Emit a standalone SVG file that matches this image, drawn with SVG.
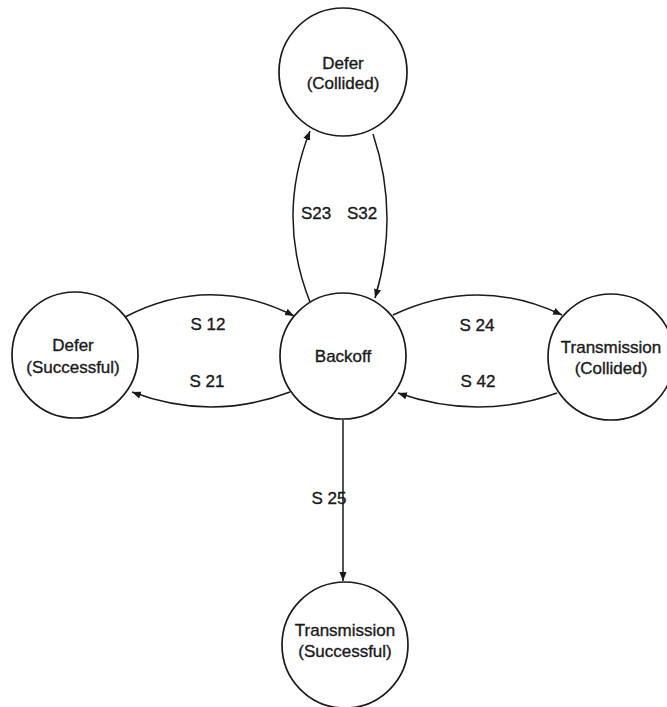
<svg xmlns="http://www.w3.org/2000/svg" width="667" height="707" viewBox="0 0 667 707">
<style>
.node circle{fill:#fff;stroke:#1a1a1a;stroke-width:1.7}
.node text,.lbl{font-family:"Liberation Sans",Arial,sans-serif;font-size:17px;fill:#1a1a1a;stroke:#1a1a1a;stroke-width:0.35;text-anchor:middle}
.edge{fill:none;stroke:#1a1a1a;stroke-width:1.5}
</style>
<defs>
<marker id="arr" viewBox="0 0 10 10" refX="10" refY="5" markerWidth="9" markerHeight="9" markerUnits="userSpaceOnUse" orient="auto">
<path d="M0,1 L10,5 L0,9 Z" fill="#1a1a1a"/>
</marker>
</defs>
<rect width="667" height="707" fill="#fff"/>
<g id="connectors">
<path class="edge" d="M310,302 Q276,216 310,131" marker-end="url(#arr)"/>
<path class="edge" d="M373,134 Q400,215 375,298" marker-end="url(#arr)"/>
<path class="edge" d="M125,317 Q210,273 294,316" marker-end="url(#arr)"/>
<path class="edge" d="M290,392 Q211,422 132,392" marker-end="url(#arr)"/>
<path class="edge" d="M393,315 Q478,275 562,315" marker-end="url(#arr)"/>
<path class="edge" d="M557,393 Q478,421 398,393" marker-end="url(#arr)"/>
<path class="edge" d="M343,420 L343,581" marker-end="url(#arr)"/>
<text class="lbl" x="316" y="219">S23</text>
<text class="lbl" x="362" y="219">S32</text>
<text class="lbl" x="208" y="330">S 12</text>
<text class="lbl" x="207" y="387">S 21</text>
<text class="lbl" x="477" y="331">S 24</text>
<text class="lbl" x="478" y="387">S 42</text>
<text class="lbl" x="329" y="504">S 25</text>
</g>
<g id="defer-collided" class="node">
<circle cx="343" cy="72" r="64"/>
<text x="343" y="69">Defer</text>
<text x="343" y="89">(Collided)</text>
</g>
<g id="defer-successful" class="node">
<circle cx="75" cy="355" r="63"/>
<text x="73" y="351">Defer</text>
<text x="73" y="373">(Successful)</text>
</g>
<g id="backoff" class="node">
<circle cx="343" cy="356" r="63"/>
<text x="343" y="362">Backoff</text>
</g>
<g id="transmission-collided" class="node">
<circle cx="611" cy="357" r="63"/>
<text x="611" y="353">Transmission</text>
<text x="611" y="374">(Collided)</text>
</g>
<g id="transmission-successful" class="node">
<circle cx="345" cy="645" r="63"/>
<text x="345" y="636">Transmission</text>
<text x="345" y="657">(Successful)</text>
</g>
</svg>
